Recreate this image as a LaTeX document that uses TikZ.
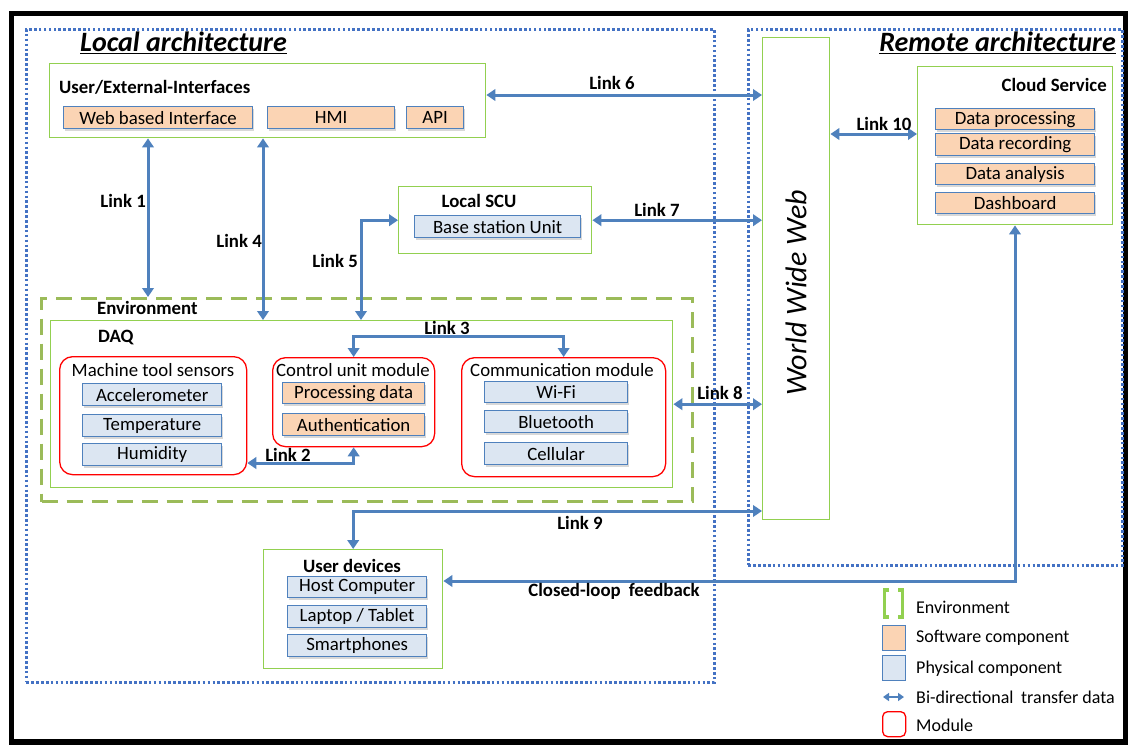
\documentclass[tikz,border=0pt]{standalone}
\usepackage{fontspec}
\setmainfont{Carlito}
\usetikzlibrary{arrows.meta,shadows,calc}
\definecolor{gbox}{RGB}{146,208,80}
\definecolor{genv}{RGB}{155,187,89}
\definecolor{bline}{RGB}{79,129,189}
\definecolor{swfill}{RGB}{251,212,180}
\definecolor{hwfill}{RGB}{220,230,242}
\definecolor{dotb}{RGB}{68,114,196}
\begin{document}
\begin{tikzpicture}[x=1pt,y=-1pt,
  font=\fontsize{18.8}{22}\selectfont,
  >={Triangle[length=9pt,width=11.5pt]},
  grp/.style={draw=gbox, line width=1.4pt, fill=white, anchor=north west, inner sep=0pt},
  comp/.style={draw=bline, line width=1.3pt, anchor=north west, inner sep=0pt, minimum height=22pt,
    drop shadow={opacity=0.3, shadow xshift=1.5pt, shadow yshift=-2pt}},
  swc/.style={comp, fill=swfill},
  hwc/.style={comp, fill=hwfill},
  modbox/.style={draw=red, line width=1.3pt, rounded corners=13pt, anchor=north west, inner sep=0pt, fill=white},
  arch/.style={draw=dotb, line width=2.6pt, dash pattern=on 2.6pt off 2.3pt, anchor=north west, inner sep=0pt},
  link/.style={draw=bline, line width=3pt, <->},
  lbl/.style={font=\fontsize{18.8}{22}\selectfont\bfseries, inner sep=0pt},
  ttl/.style={font=\fontsize{18.8}{22}\selectfont\bfseries, inner sep=0pt},
  big/.style={font=\fontsize{28}{32}\selectfont\bfseries\itshape, inner sep=0pt},
  plain/.style={inner sep=0pt},
  legtext/.style={inner sep=0pt, anchor=west, font=\fontsize{18}{21}\selectfont},
]
\useasboundingbox (0,0) rectangle (1128,745);
\fill[white] (0,0) rectangle (1128,745);

% outer frame
\draw[line width=5.5pt] (11.5,13.5) rectangle (1125.5,742);

% architecture areas
\node[arch, minimum width=688pt, minimum height=653pt] (loc) at (25,28) {};
\node[arch, minimum width=374pt, minimum height=536pt] (rem) at (747,28) {};
\node[big, anchor=west] (loct) at (80,43) {\underline{Local architecture}};
\node[big, anchor=east] (remt) at (1116,43) {\underline{Remote architecture}};

% user / external interfaces
\node[grp, minimum width=436pt, minimum height=74pt] (ue) at (49,63) {};
\node[ttl, anchor=west] (uet) at (59,87) {User/External-Interfaces};
\node[swc, minimum width=189pt] (wbi) at (63,106) {Web based Interface};
\node[swc, minimum width=127pt] (hmi) at (267,106) {HMI};
\node[swc, minimum width=57pt] (api) at (406,106) {API};

% local SCU
\node[grp, minimum width=193pt, minimum height=67pt] (scu) at (398,186) {};
\node[ttl] (scut) at (479,201) {Local SCU};
\node[hwc, minimum width=166pt] (bsu) at (414,215) {Base station Unit};

% world wide web
\node[grp, minimum width=67pt, minimum height=482pt] (www) at (762,37) {};
\node[rotate=90, font=\fontsize{30}{34}\selectfont\itshape, inner sep=0pt] (wwwt) at (796,293) {World Wide Web};

% cloud service
\node[grp, minimum width=195pt, minimum height=158pt] (cloud) at (917,66) {};
\node[ttl, anchor=east] (cloudt) at (1107,85) {Cloud Service};
\node[swc, minimum width=159pt, minimum height=21pt] (dp) at (935,108) {Data processing};
\node[swc, minimum width=159pt] (dr) at (935,133) {Data recording};
\node[swc, minimum width=159pt, minimum height=21pt] (da) at (935,163) {Data analysis};
\node[swc, minimum width=159pt, minimum height=21pt] (db) at (935,192) {Dashboard};

% environment and DAQ
\node[draw=genv, line width=3pt, dash pattern=on 16pt off 9pt, anchor=north west, inner sep=0pt,
      minimum width=651pt, minimum height=203pt] (env) at (40,297) {};
\node[ttl, anchor=west] (envt) at (97,308) {Environment};
\node[grp, minimum width=622pt, minimum height=167pt] (daq) at (50,320) {};
\node[ttl, anchor=west] (daqt) at (98,338) {DAQ};

% modules
\node[modbox, minimum width=187pt, minimum height=118pt] (mts) at (59,356) {};
\node[plain] (mtst) at (153,370) {Machine tool sensors};
\node[hwc, minimum width=139pt] (acc) at (82,383) {Accelerometer};
\node[hwc, minimum width=139pt] (tmp) at (82,414) {Temperature};
\node[hwc, minimum width=139pt] (hum) at (82,443) {Humidity};

\node[modbox, minimum width=162pt, minimum height=89pt] (cum) at (272,357) {};
\node[plain] (cumt) at (353,370) {Control unit module};
\node[swc, minimum width=142pt, minimum height=21pt] (pd) at (282,382) {Processing data};
\node[swc, minimum width=142pt] (aut) at (282,413) {Authentication};

\node[modbox, minimum width=204pt, minimum height=119pt] (com) at (461,357) {};
\node[plain] (comt) at (562,370) {Communication module};
\node[hwc, minimum width=143pt, minimum height=21pt] (wifi) at (484,381) {Wi-Fi};
\node[hwc, minimum width=143pt] (bt) at (484,410) {Bluetooth};
\node[hwc, minimum width=143pt] (cell) at (484,442) {Cellular};

% user devices
\node[grp, minimum width=179pt, minimum height=119pt] (ud) at (263,549) {};
\node[ttl] (udt) at (352,566) {User devices};
\node[hwc, minimum width=139pt, minimum height=21pt] (hc) at (287,576) {Host Computer};
\node[hwc, minimum width=139pt] (lt) at (287,605) {Laptop / Tablet};
\node[hwc, minimum width=139pt] (sp) at (287,634) {Smartphones};

% helper coordinates
\coordinate (x1) at (148,0);
\coordinate (x4) at (263,0);
\coordinate (x5) at (361,0);
\coordinate (y6) at (0,95);
\coordinate (y10) at (0,134);
\coordinate (l3) at (458,336);
\coordinate (l2) at (300,463);
\coordinate (y9) at (0,511);
\coordinate (cl) at (1015,581);

% links
\draw[link] (ue.south -| x1) -- (env.north -| x1);
\draw[link] (ue.south -| x4) -- (daq.north -| x4);
\draw[link] (scu.west) -| (daq.north -| x5);
\draw[link] (ue.east |- y6) -- (www.west |- y6);
\draw[link] (scu.east) -- (www.west |- scu.east);
\draw[link] (www.east |- y10) -- (cloud.west |- y10);
\draw[link] (daq.east) -- (www.west |- daq.east);
\draw[link] (cum.north) |- (l3) -| (com.north);
\draw[link] (cum.south) |- (mts.east |- l2);
\draw[link] (www.west |- y9) -| (ud.north);
\draw[link] (cloud.south -| cl) |- (ud.east |- cl);

% link labels
\node[lbl, anchor=east] (t1) at (146,201) {Link 1};
\node[lbl, anchor=east] (t4) at (262,241) {Link 4};
\node[lbl, anchor=east] (t5) at (358,261) {Link 5};
\node[lbl] (t6) at (612,83) {Link 6};
\node[lbl] (t7) at (657,210) {Link 7};
\node[lbl] (t10) at (884,124) {Link 10};
\node[lbl] (t8) at (720,393) {Link 8};
\node[lbl] (t9) at (580,523) {Link 9};
\node[lbl] (t3) at (447,328) {Link 3};
\node[lbl] (t2) at (288,455) {Link 2};
\node[lbl] (tcl) at (614,591) {Closed-loop\hspace{0.2em} feedback};

% legend
\draw[gbox, line width=3.2pt] (889,590) -- (884.5,590) -- (884.5,617) -- (889,617);
\draw[gbox, line width=3.2pt] (898,590) -- (902.5,590) -- (902.5,617) -- (898,617);
\node[legtext] (le1) at (916,607) {Environment};
\node[draw=bline, line width=1.3pt, fill=swfill, anchor=north west, minimum width=23pt, minimum height=25pt, inner sep=0pt] (ls) at (882,625) {};
\node[legtext] (le2) at (916,638) {Software component};
\node[draw=bline, line width=1.3pt, fill=hwfill, anchor=north west, minimum width=23pt, minimum height=25pt, inner sep=0pt] (lp) at (882,655) {};
\node[legtext] (le3) at (916,669) {Physical component};
\coordinate (la1) at (883,697);
\coordinate (la2) at (904,697);
\draw[draw=bline, line width=2.6pt, {Triangle[length=6pt,width=8pt]}-{Triangle[length=6pt,width=8pt]}] (la1) -- (la2);
\node[legtext] (le4) at (916,697) {Bi-directional\hspace{0.2em} transfer data};
\node[draw=red, line width=1.3pt, rounded corners=5pt, anchor=north west, minimum width=23pt, minimum height=25pt, inner sep=0pt] (lm) at (882,711) {};
\node[legtext] (le5) at (916,725) {Module};
\end{tikzpicture}
\end{document}
